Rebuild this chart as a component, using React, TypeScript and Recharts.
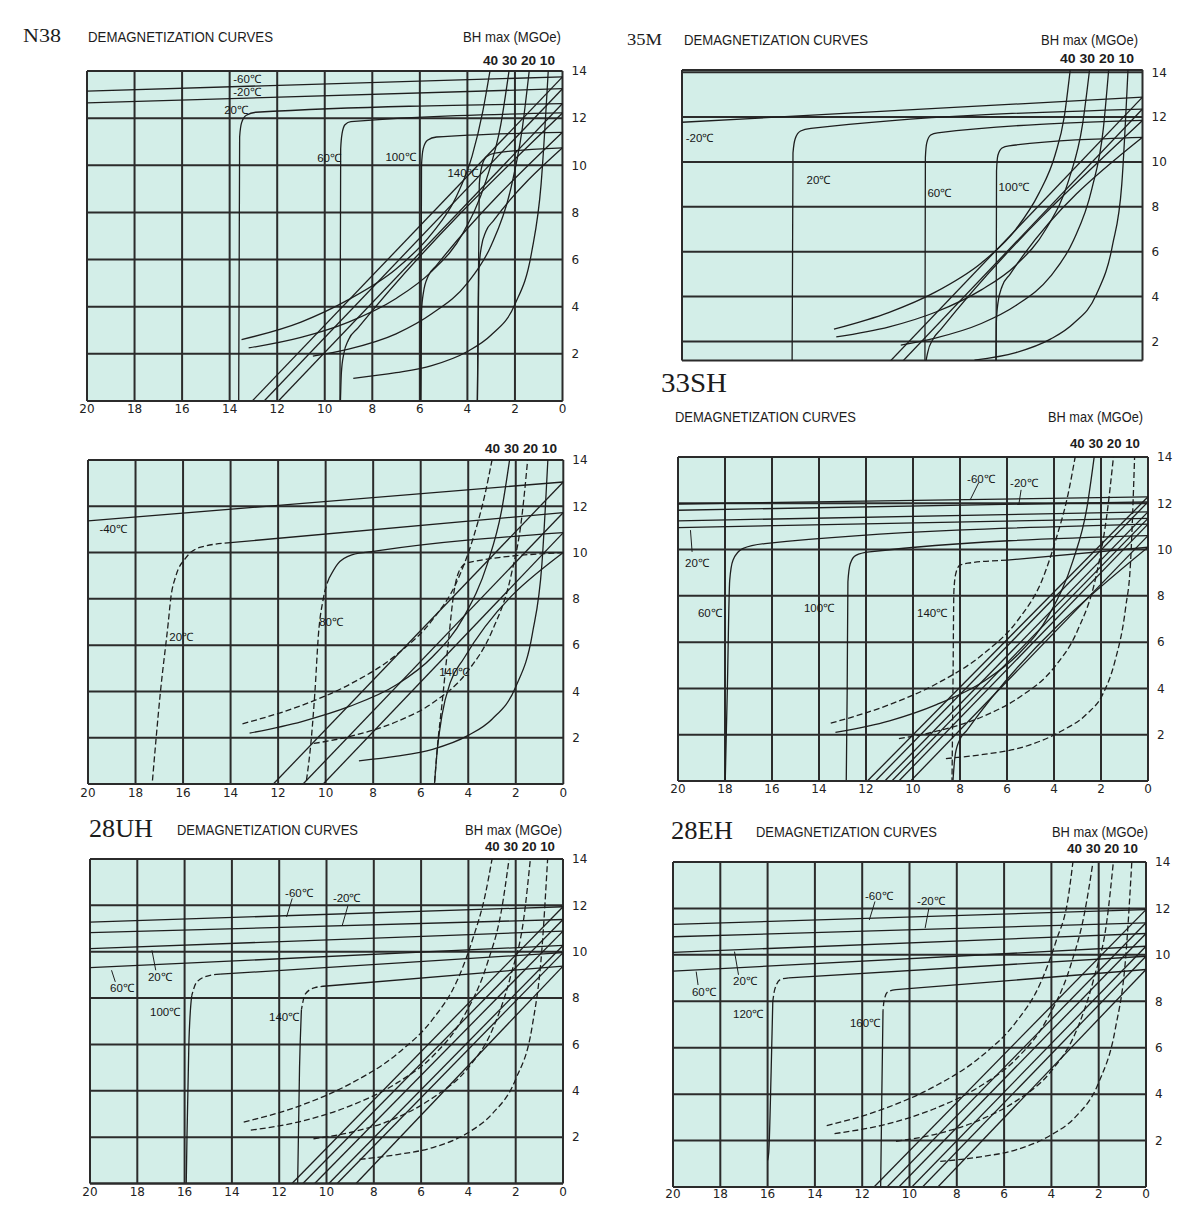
import React from "react";
import { LineChart, XAxis, YAxis, Line, CartesianGrid, ReferenceDot, ReferenceLine } from "recharts";

// [H (kOe), B (kG)]
type Pt = [number, number];

const X_TICKS = [0, 2, 4, 6, 8, 10, 12, 14, 16, 18, 20];
const Y_TICKS = [0, 2, 4, 6, 8, 10, 12, 14];
const Y_TICKS_CUT = [2, 4, 6, 8, 10, 12, 14];
const BH_NAMES = ["40", "30", "20", "10"];

// ---------- N38 ----------
const N38_INTRINSIC: Pt[][] = [
  [[0, 13.75], [20, 13.15]],
  [[0, 13.25], [20, 12.65]],
  [[0, 12.62], [12.9, 12.25], [13.3, 12.12], [13.5, 11.8], [13.58, 11.2], [13.62, 0]],
  [[0, 12.22], [8.9, 11.85], [9.15, 11.72], [9.27, 11.35], [9.33, 10.7], [9.36, 0]],
  [[0, 11.4], [5.3, 11.2], [5.68, 11.06], [5.86, 10.7], [5.93, 10.0], [5.96, 0]],
  [[0, 10.74], [2.85, 10.52], [3.2, 10.36], [3.38, 10.0], [3.5, 9.2], [3.58, 0]],
];
const N38_NORMAL: Pt[][] = [
  [[0, 13.75], [13.05, 0]],
  [[0, 13.25], [12.55, 0]],
  [[0, 12.62], [11.95, 0]],
  [[0, 12.22], [8.6, 3.1], [9.0, 2.6], [9.2, 2.0], [9.3, 1.2], [9.34, 0]],
  [[0, 11.4], [5.3, 5.75], [5.65, 5.3], [5.85, 4.6], [5.93, 3.8], [5.96, 0]],
  [[0, 10.74], [2.9, 7.65], [3.22, 7.2], [3.42, 6.5], [3.52, 5.5], [3.58, 0]],
];
const N38_BHMAX: Pt[][] = [
  [[13.5, 2.6], [11, 3.35], [9, 4.3], [7, 5.6], [5.5, 7.1], [4.5, 8.6], [3.8, 10.4], [3.35, 12.3], [3.05, 14]],
  [[13.2, 2.25], [11, 2.7], [9, 3.35], [7, 4.35], [5.5, 5.5], [4.2, 7.1], [3.2, 9.4], [2.6, 11.7], [2.25, 14]],
  [[10.5, 1.9], [9, 2.2], [7, 2.85], [5.5, 3.7], [4, 5.0], [3, 6.6], [2.2, 8.9], [1.7, 11.5], [1.4, 14]],
  [[8.8, 0.96], [7, 1.2], [5.5, 1.5], [4, 2.1], [3, 2.8], [2, 4.1], [1.3, 6.3], [0.9, 9.2], [0.6, 14]],
];
const N38_LABELS = [
  { text: "-60℃", h: 13.85, b: 13.64 },
  { text: "-20℃", h: 13.85, b: 13.09 },
  { text: "20℃", h: 14.23, b: 12.36 },
  { text: "60℃", h: 10.32, b: 10.32 },
  { text: "100℃", h: 7.45, b: 10.36 },
  { text: "140℃", h: 4.84, b: 9.68 },
];

// ---------- 35M ----------
const M35_INTRINSIC: Pt[][] = [
  [[0, 12.89], [20, 11.77]],
  [[0, 12.36], [14.4, 11.5], [14.85, 11.38], [15.08, 11.05], [15.18, 10.4], [15.22, 0.5]],
  [[0, 11.85], [8.9, 11.3], [9.2, 11.2], [9.37, 10.85], [9.43, 10.2], [9.45, 0.5]],
  [[0, 11.1], [5.8, 10.72], [6.1, 10.62], [6.28, 10.3], [6.34, 9.6], [6.36, 0.5]],
];
const M35_NORMAL: Pt[][] = [
  [[0, 12.89], [12.0, 0]],
  [[0, 12.36], [11.45, 0]],
  [[0, 11.85], [8.75, 2.55], [9.1, 2.1], [9.33, 1.5], [9.43, 0.8], [9.45, 0]],
  [[0, 11.1], [5.75, 5.0], [6.1, 4.45], [6.28, 3.7], [6.35, 2.8], [6.37, 0]],
];
const M35_BHMAX: Pt[][] = [
  [[13.4, 2.55], [11, 3.3], [9, 4.2], [7, 5.5], [5.5, 7], [4.5, 8.6], [3.8, 10.3], [3.4, 12], [3.14, 14.1]],
  [[13.3, 2.2], [11, 2.65], [9, 3.3], [7, 4.3], [5.5, 5.4], [4.2, 7], [3.2, 9.2], [2.6, 11.7], [2.3, 14.1]],
  [[10.5, 1.84], [9, 2.15], [7, 2.8], [5.5, 3.6], [4, 4.9], [3, 6.5], [2.2, 8.8], [1.7, 11.5], [1.47, 14.1]],
  [[7.3, 1.17], [5.5, 1.5], [4, 2.1], [3, 2.8], [2, 4.1], [1.3, 6.3], [0.9, 9], [0.63, 14.1]],
];
const M35_LABELS = [
  { text: "-20℃", h: 19.84, b: 11.05 },
  { text: "20℃", h: 14.59, b: 9.18 },
  { text: "60℃", h: 9.34, b: 8.6 },
  { text: "100℃", h: 6.25, b: 8.87 },
];

// ---------- middle left ----------
const ML_INTRINSIC: Pt[][] = [
  [[0, 13.05], [20, 11.37]],
  [[0, 11.73], [14.0, 10.43]],
  [[0, 10.86], [7.85, 10.07], [8.9, 9.9], [9.5, 9.5], [9.85, 8.9]],
];
const ML_INTRINSIC_DASHED: Pt[][] = [
  [[14.0, 10.43], [15.3, 10.22], [15.9, 9.75], [16.3, 9.0], [16.52, 8.0], [16.62, 7.0], [16.95, 4.0], [17.3, 0]],
  [[9.85, 8.9], [10.1, 8.0], [10.3, 6.5], [10.45, 4.0], [10.6, 2.0], [10.83, 0]],
  [[0, 10.0], [4.0, 9.57], [4.3, 9.35], [4.6, 8.3], [4.85, 6.0], [5.1, 3.5], [5.32, 1.35], [5.42, 0]],
];
const ML_NORMAL: Pt[][] = [
  [[0, 13.05], [12.2, 0]],
  [[0, 11.73], [10.95, 0]],
  [[0, 10.86], [10.1, 0]],
  [[0, 10.0], [4.2, 5.4], [4.75, 4.4], [5.1, 3.0], [5.3, 1.5], [5.42, 0]],
];
const ML_BHMAX: Pt[][] = [
  [[13.5, 2.6], [11, 3.4], [9, 4.3], [7, 5.6], [5.5, 7.1], [4.5, 8.7], [3.8, 10.6], [3.3, 12.5], [3.0, 14]],
  [[13.2, 2.2], [11, 2.7], [9, 3.35], [7, 4.3], [5.5, 5.5], [4.2, 7.2], [3.2, 9.5], [2.6, 11.8], [2.26, 14]],
  [[10.5, 1.75], [9, 2.05], [7, 2.7], [5.5, 3.5], [4, 4.9], [3, 6.6], [2.2, 9], [1.75, 11.5], [1.5, 14]],
  [[8.6, 1.0], [7, 1.2], [5.5, 1.5], [4, 2.1], [3, 2.8], [2, 4.2], [1.3, 6.5], [0.9, 9.5], [0.65, 14]],
];
const ML_LABELS = [
  { text: "-40℃", h: 19.52, b: 11.0 },
  { text: "20℃", h: 16.58, b: 6.36 },
  { text: "80℃", h: 10.27, b: 7.01 },
  { text: "140℃", h: 5.22, b: 4.85 },
];

// ---------- 33SH ----------
const SH33_INTRINSIC: Pt[][] = [
  [[0, 12.28], [20, 11.97]],
  [[0, 12.06], [20, 11.7]],
  [[0, 11.63], [20, 11.24]],
  [[0, 11.35], [20, 10.95]],
  [[0, 11.1], [16.3, 10.26], [17.25, 10.04], [17.66, 9.54], [17.8, 8.67], [17.9, 4.0], [17.99, 0]],
  [[0, 10.6], [11.86, 9.9], [12.43, 9.75], [12.67, 9.39], [12.77, 8.6], [12.8, 4.0], [12.84, 0]],
  [[0, 10.1], [6.0, 9.54]],
];
const SH33_INTRINSIC_DASHED: Pt[][] = [
  [[6.0, 9.54], [7.6, 9.42], [8.0, 9.33], [8.18, 8.96], [8.26, 8.2], [8.3, 4.0], [8.34, 0]],
];
const SH33_NORMAL: Pt[][] = [
  [[0, 12.28], [11.94, 0]],
  [[0, 12.06], [11.6, 0]],
  [[0, 11.63], [11.2, 0]],
  [[0, 11.35], [10.9, 0]],
  [[0, 11.1], [10.6, 0]],
  [[0, 10.6], [10.1, 0]],
  [[0, 10.1], [7.7, 2.2], [8.05, 1.7], [8.22, 1.0], [8.3, 0]],
];
const SH33_BHMAX: Pt[][] = [
  [[13.5, 2.5], [11, 3.3], [9, 4.2], [7, 5.5], [5.5, 7], [4.5, 8.7], [3.9, 10.5], [3.4, 12.4], [3.1, 14]],
  [[13.3, 2.1], [11, 2.6], [9, 3.3], [7, 4.3], [5.5, 5.5], [4.2, 7.2], [3.2, 9.5], [2.6, 11.8], [2.29, 14]],
  [[10.6, 1.83], [9, 2.15], [7, 2.8], [5.5, 3.6], [4, 4.9], [3, 6.5], [2.2, 8.9], [1.75, 11.5], [1.47, 14]],
  [[8.6, 0.97], [7, 1.15], [5.3, 1.47], [3.7, 2.15], [2.6, 2.9], [1.95, 3.7], [1.4, 5.2], [0.95, 7.5], [0.74, 9.5], [0.57, 14]],
];
const SH33_LABELS = [
  { text: "-60℃", h: 7.7, b: 13.05 },
  { text: "-20℃", h: 5.87, b: 12.88 },
  { text: "20℃", h: 19.7, b: 9.42 },
  { text: "60℃", h: 19.15, b: 7.25 },
  { text: "100℃", h: 14.64, b: 7.47 },
  { text: "140℃", h: 9.83, b: 7.25 },
];
const SH33_LEADERS: [Pt, Pt][] = [
  [[7.2, 12.9], [7.57, 12.14]],
  [[5.4, 12.58], [5.5, 11.93]],
  [[19.47, 10.84], [19.4, 9.9]],
];

// ---------- 28UH ----------
const UH28_INTRINSIC: Pt[][] = [
  [[0, 11.94], [20, 11.28]],
  [[0, 11.39], [20, 10.82]],
  [[0, 10.89], [20, 10.13]],
  [[0, 10.27], [20, 9.31]],
  [[0, 9.96], [14.5, 9.03]],
  [[15.7, 8.1], [15.82, 6.0], [15.9, 2.0], [15.93, 0]],
  [[0, 9.38], [10.0, 8.52]],
  [[11.06, 7.5], [11.14, 5.0], [11.22, 0]],
];
const UH28_INTRINSIC_DASHED: Pt[][] = [
  [[14.5, 9.03], [15.04, 8.95], [15.5, 8.67], [15.7, 8.1]],
  [[10.0, 8.52], [10.49, 8.45], [10.9, 8.17], [11.06, 7.5]],
];
const UH28_NORMAL: Pt[][] = [
  [[0, 11.94], [11.46, 0]],
  [[0, 11.39], [11.0, 0]],
  [[0, 10.89], [10.5, 0]],
  [[0, 10.27], [9.9, 0]],
  [[0, 9.96], [9.55, 0]],
  [[0, 9.38], [8.75, 0]],
];
const UH28_BHMAX: Pt[][] = [
  [[13.5, 2.65], [11, 3.4], [9, 4.3], [7, 5.6], [5.5, 7.1], [4.5, 8.7], [3.8, 10.6], [3.3, 12.4], [3.0, 14]],
  [[13.2, 2.3], [11, 2.7], [9, 3.35], [7, 4.35], [5.5, 5.5], [4.2, 7.2], [3.2, 9.5], [2.6, 11.8], [2.28, 14]],
  [[10.55, 1.93], [9, 2.2], [7, 2.85], [5.5, 3.7], [4, 5.0], [3, 6.6], [2.2, 9], [1.65, 11.5], [1.38, 14]],
  [[8.6, 1.04], [7, 1.25], [5.5, 1.55], [4, 2.2], [3, 3.0], [2, 4.5], [1.3, 6.8], [0.9, 10], [0.65, 14]],
];
const UH28_LABELS = [
  { text: "-60℃", h: 11.75, b: 12.53 },
  { text: "-20℃", h: 9.73, b: 12.31 },
  { text: "20℃", h: 17.55, b: 8.9 },
  { text: "60℃", h: 19.15, b: 8.42 },
  { text: "100℃", h: 17.46, b: 7.39 },
  { text: "140℃", h: 12.43, b: 7.17 },
];
const UH28_LEADERS: [Pt, Pt][] = [
  [[11.45, 12.3], [11.69, 11.5]],
  [[9.09, 12.0], [9.33, 11.15]],
  [[17.38, 10.06], [17.22, 9.2]],
  [[19.09, 9.2], [18.93, 8.7]],
];

// ---------- 28EH ----------
const EH28_INTRINSIC: Pt[][] = [
  [[0, 11.95], [20, 11.31]],
  [[0, 11.38], [20, 10.78]],
  [[0, 10.92], [20, 10.11]],
  [[0, 10.37], [20, 9.3]],
  [[0, 9.94], [15.1, 9.01]],
  [[15.78, 8.0], [15.85, 5.0], [15.95, 1.5], [16.0, 1.15]],
  [[0, 9.37], [10.57, 8.5]],
  [[11.12, 7.6], [11.17, 4.0], [11.22, 0]],
];
const EH28_INTRINSIC_DASHED: Pt[][] = [
  [[15.1, 9.01], [15.45, 8.94], [15.7, 8.5], [15.78, 8.0]],
  [[10.57, 8.5], [10.9, 8.42], [11.07, 8.06], [11.12, 7.6]],
];
const EH28_NORMAL: Pt[][] = [
  [[0, 11.95], [11.5, 0]],
  [[0, 11.38], [10.95, 0]],
  [[0, 10.92], [10.45, 0]],
  [[0, 10.37], [9.9, 0]],
  [[0, 9.94], [9.45, 0]],
  [[0, 9.37], [8.8, 0]],
];
const EH28_BHMAX: Pt[][] = [
  [[13.5, 2.64], [11, 3.4], [9, 4.3], [7, 5.6], [5.5, 7.1], [4.5, 8.7], [3.8, 10.6], [3.3, 12.4], [3.09, 14]],
  [[13.17, 2.3], [11, 2.7], [9, 3.35], [7, 4.35], [5.5, 5.5], [4.2, 7.2], [3.2, 9.5], [2.6, 11.8], [2.24, 14]],
  [[10.57, 1.97], [9, 2.25], [7, 2.9], [5.5, 3.7], [4, 5.0], [3, 6.6], [2.2, 9], [1.65, 11.5], [1.38, 14]],
  [[8.7, 1.1], [7, 1.3], [5.5, 1.6], [4, 2.25], [3, 3.0], [2, 4.5], [1.3, 6.8], [0.85, 10], [0.6, 14]],
];
const EH28_LABELS = [
  { text: "-60℃", h: 11.88, b: 12.54 },
  { text: "-20℃", h: 9.68, b: 12.33 },
  { text: "20℃", h: 17.46, b: 8.88 },
  { text: "60℃", h: 19.2, b: 8.4 },
  { text: "120℃", h: 17.46, b: 7.46 },
  { text: "160℃", h: 12.52, b: 7.07 },
];
const EH28_LEADERS: [Pt, Pt][] = [
  [[11.46, 12.3], [11.7, 11.5]],
  [[9.18, 12.01], [9.34, 11.15]],
  [[17.4, 10.14], [17.23, 9.14]],
  [[19.02, 9.28], [18.94, 8.7]],
];

// ---------- styling / layout ----------
const BG = "#d3eee8";
const INK = "#1e1e1e";
const GRID = "#2b2b2b";
const DASH = "6 3";
const SANS = "'Liberation Sans', Arial, sans-serif";
const NARROW = "'Liberation Sans Narrow', 'Liberation Sans', Arial, sans-serif";
const SERIF = "'Liberation Serif', 'Times New Roman', serif";
const TICK_FONT = "'DejaVu Sans', sans-serif";

type Box = { left: number; top: number; right: number; bottom: number; yDomain: [number, number]; cut?: boolean; tickGap: number };

const toRows = (pts: Pt[]) => pts.map(([h, b]) => ({ h, b }));

function curve(key: string, pts: Pt[], dash?: string) {
  return (
    <Line
      key={key}
      data={toRows(pts)}
      dataKey="b"
      type="monotone"
      stroke={INK}
      strokeWidth={1.3}
      strokeDasharray={dash}
      dot={false}
      activeDot={false}
      isAnimationActive={false}
    />
  );
}

type PanelProps = {
  box: Box;
  intrinsic: Pt[][];
  intrinsicDashed?: Pt[][];
  normal: Pt[][];
  bhmax: Pt[][];
  bhDash: string[];
  labels: { text: string; h: number; b: number }[];
  leaders?: [Pt, Pt][];
};

function Panel({ box, intrinsic, intrinsicDashed = [], normal, bhmax, bhDash, labels, leaders = [] }: PanelProps) {
  const mTop = 6;
  const mLeft = 16;
  const yW = 34;
  const xH = box.cut ? 0 : 24;
  const plotW = box.right - box.left;
  const plotH = box.bottom - box.top;
  const tickStyle = { fontSize: 12, fill: "#222222", fontFamily: TICK_FONT };

  return (
    <div style={{ position: "absolute", left: box.left - mLeft, top: box.top - mTop }}>
      <LineChart
        width={plotW + mLeft + 2 + yW}
        height={plotH + mTop + 2 + xH}
        margin={{ top: mTop, left: mLeft, right: 2, bottom: 2 }}
      >
        <CartesianGrid stroke={GRID} strokeWidth={2} fill={BG} fillOpacity={1} />
        <XAxis
          type="number"
          dataKey="h"
          domain={[0, 20]}
          reversed
          ticks={X_TICKS}
          interval={0}
          allowDataOverflow
          height={xH}
          tick={box.cut ? false : tickStyle}
          tickLine={false}
          tickSize={0}
          tickMargin={box.tickGap}
          axisLine={box.cut ? false : { stroke: GRID, strokeWidth: 2 }}
        />
        <YAxis
          type="number"
          orientation="right"
          domain={box.yDomain}
          ticks={box.cut ? Y_TICKS_CUT : Y_TICKS}
          interval={0}
          allowDataOverflow
          width={yW}
          tick={tickStyle}
          tickLine={false}
          tickSize={0}
          tickMargin={9}
          axisLine={false}
          tickFormatter={(v: number) => (v === 0 ? "" : String(v))}
        />
        {box.cut && <ReferenceLine y={box.yDomain[1]} stroke={GRID} strokeWidth={2} />}
        {intrinsic.map((pts, i) => curve(`i${i}`, pts))}
        {intrinsicDashed.map((pts, i) => curve(`id${i}`, pts, DASH))}
        {normal.map((pts, i) => curve(`n${i}`, pts))}
        {bhmax.map((pts, i) => curve(`bh${BH_NAMES[i]}`, pts, bhDash[i] || undefined))}
        {leaders.map(([a, b], i) => (
          <ReferenceLine
            key={`ld${i}`}
            segment={[{ x: a[0], y: a[1] }, { x: b[0], y: b[1] }]}
            stroke={INK}
            strokeWidth={1}
          />
        ))}
        {labels.map((l) => (
          <ReferenceDot
            key={l.text}
            x={l.h}
            y={l.b}
            r={1}
            shape={(p: any) => (
              <text
                x={p.cx}
                y={p.cy}
                dominantBaseline="central"
                fontSize={11.5}
                fontFamily={SANS}
                fill="#161616"
              >
                {l.text}
              </text>
            )}
          />
        ))}
      </LineChart>
    </div>
  );
}

const BOX_N38: Box = { left: 86.5, top: 71, right: 562, bottom: 401, yDomain: [0, 14], tickGap: 3 };
const BOX_M35: Box = { left: 681.5, top: 69.5, right: 1142, bottom: 360, yDomain: [1.15, 14.1], cut: true, tickGap: 3 };
const BOX_ML: Box = { left: 87.7, top: 460, right: 563, bottom: 784, yDomain: [0, 14], tickGap: 4 };
const BOX_SH33: Box = { left: 678, top: 456.5, right: 1148, bottom: 780.5, yDomain: [0, 14], tickGap: 3 };
const BOX_UH28: Box = { left: 90, top: 858.5, right: 563, bottom: 1183, yDomain: [0, 14], tickGap: 4 };
const BOX_EH28: Box = { left: 673, top: 862, right: 1146, bottom: 1187, yDomain: [0, 14], tickGap: 2 };

type Caption = { text: string; x: number; y: number; size: number; len: number; font: string; bold?: boolean };
const DEMAG = "DEMAGNETIZATION CURVES";
const BHLABEL = "BH max (MGOe)";
const BHNUM = "40 30 20 10";

const CAPTIONS: Caption[] = [
  { text: "N38", x: 23, y: 42, size: 19, len: 38, font: SERIF },
  { text: DEMAG, x: 88, y: 41.5, size: 15, len: 185, font: NARROW },
  { text: BHLABEL, x: 463, y: 41.5, size: 15, len: 98, font: NARROW },
  { text: BHNUM, x: 483, y: 65, size: 12.5, len: 72, font: SANS, bold: true },

  { text: "35M", x: 627, y: 45, size: 17, len: 35, font: SERIF },
  { text: DEMAG, x: 684, y: 45, size: 15, len: 184, font: NARROW },
  { text: BHLABEL, x: 1041, y: 45, size: 15, len: 97, font: NARROW },
  { text: BHNUM, x: 1060, y: 63.3, size: 13, len: 74, font: SANS, bold: true },

  { text: BHNUM, x: 485, y: 453.3, size: 12.5, len: 72, font: SANS, bold: true },

  { text: "33SH", x: 661, y: 392, size: 27, len: 66, font: SERIF },
  { text: DEMAG, x: 675, y: 421.7, size: 15, len: 181, font: NARROW },
  { text: BHLABEL, x: 1048, y: 421.7, size: 15, len: 95, font: NARROW },
  { text: BHNUM, x: 1070, y: 448.3, size: 12.5, len: 70, font: SANS, bold: true },

  { text: "28UH", x: 89, y: 836.7, size: 26, len: 64, font: SERIF },
  { text: DEMAG, x: 177, y: 835, size: 15, len: 181, font: NARROW },
  { text: BHLABEL, x: 465, y: 835, size: 15, len: 97, font: NARROW },
  { text: BHNUM, x: 485, y: 850.7, size: 12.5, len: 70, font: SANS, bold: true },

  { text: "28EH", x: 671, y: 839.3, size: 26, len: 62, font: SERIF },
  { text: DEMAG, x: 756, y: 837.3, size: 15, len: 181, font: NARROW },
  { text: BHLABEL, x: 1052, y: 837, size: 15, len: 96, font: NARROW },
  { text: BHNUM, x: 1067, y: 853.3, size: 12.5, len: 71, font: SANS, bold: true },
];

export default function App() {
  return (
    <div style={{ position: "absolute", left: 0, top: 0, width: 1200, height: 1220, background: "#ffffff", overflow: "hidden" }}>
      <Panel box={BOX_N38} intrinsic={N38_INTRINSIC} normal={N38_NORMAL} bhmax={N38_BHMAX} bhDash={["", "", "", ""]} labels={N38_LABELS} />
      <Panel box={BOX_M35} intrinsic={M35_INTRINSIC} normal={M35_NORMAL} bhmax={M35_BHMAX} bhDash={["", "", "", ""]} labels={M35_LABELS} />
      <Panel
        box={BOX_ML}
        intrinsic={ML_INTRINSIC}
        intrinsicDashed={ML_INTRINSIC_DASHED}
        normal={ML_NORMAL}
        bhmax={ML_BHMAX}
        bhDash={[DASH, "", DASH, ""]}
        labels={ML_LABELS}
      />
      <Panel
        box={BOX_SH33}
        intrinsic={SH33_INTRINSIC}
        intrinsicDashed={SH33_INTRINSIC_DASHED}
        normal={SH33_NORMAL}
        bhmax={SH33_BHMAX}
        bhDash={[DASH, "", DASH, DASH]}
        labels={SH33_LABELS}
        leaders={SH33_LEADERS}
      />
      <Panel
        box={BOX_UH28}
        intrinsic={UH28_INTRINSIC}
        intrinsicDashed={UH28_INTRINSIC_DASHED}
        normal={UH28_NORMAL}
        bhmax={UH28_BHMAX}
        bhDash={[DASH, DASH, DASH, DASH]}
        labels={UH28_LABELS}
        leaders={UH28_LEADERS}
      />
      <Panel
        box={BOX_EH28}
        intrinsic={EH28_INTRINSIC}
        intrinsicDashed={EH28_INTRINSIC_DASHED}
        normal={EH28_NORMAL}
        bhmax={EH28_BHMAX}
        bhDash={[DASH, DASH, DASH, DASH]}
        labels={EH28_LABELS}
        leaders={EH28_LEADERS}
      />
      <svg width={1200} height={1220} style={{ position: "absolute", left: 0, top: 0, pointerEvents: "none" }}>
        {CAPTIONS.map((c, i) => (
          <text
            key={i}
            x={c.x}
            y={c.y}
            fontSize={c.size}
            fontFamily={c.font}
            fontWeight={c.bold ? 700 : 400}
            fill="#1c1c1c"
            textLength={c.len}
            lengthAdjust="spacingAndGlyphs"
          >
            {c.text}
          </text>
        ))}
      </svg>
    </div>
  );
}
